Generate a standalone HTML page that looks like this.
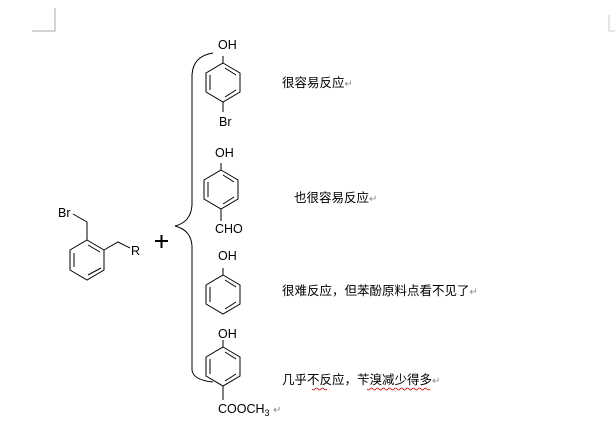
<!DOCTYPE html>
<html><head><meta charset="utf-8"><style>
body{margin:0;width:615px;height:427px;background:#fff;overflow:hidden;position:relative;font-family:"Liberation Sans","Noto Sans CJK SC",sans-serif}
.t{position:absolute;font-size:12.5px;color:#000;white-space:nowrap;line-height:1}
.r{color:#888;font-size:10px}
</style></head><body>
<svg width="615" height="427" style="position:absolute;left:0;top:0" fill="none" stroke="#000" stroke-width="1">
<path d="M55 8V31H32" stroke="#aaa"/>
<path d="M609 15V31H615" stroke="#ccc"/>
<path d="M213 53 Q193 56 192 75 V205 Q191 222 175 226 Q191 230 192 246 V370 Q193 380 213 382"/>
<path d="M73 214 L87 222 V240 M87 240 L104 250 V270 L87 280 L70 270 V250 Z M104 250 L118 242 L130 248"/>
<path d="M74 253 V267 M88 275 L101 268 M88 245 L100 252"/>
<path d="M155 241 H168 M161.5 235 V248" stroke-width="2"/>
<g transform="translate(223,63)"><path d="M0 -7 V0 M0 0 L17 10 V29 L0 39 L-17 29 V10 Z M0 39 V49 M-13 12 V27 M2 5 L13 12 M2 34 L13 27"/></g>
<g transform="translate(221,170)"><path d="M0 -7 V0 M0 0 L17 10 V29 L0 39 L-17 29 V10 Z M0 39 V51 M-13 12 V27 M2 5 L13 12 M2 34 L13 27"/></g>
<g transform="translate(223,275)"><path d="M0 -7 V0 M0 0 L17 10 V29 L0 39 L-17 29 V10 Z M-13 12 V27 M2 5 L13 12 M2 34 L13 27"/></g>
<g transform="translate(223,347)"><path d="M0 -7 V0 M0 0 L17 10 V29 L0 39 L-17 29 V10 Z M0 39 V53 M-13 12 V27 M2 5 L13 12 M2 34 L13 27"/></g>
<path d="M312 389 q1.5 2 3 0 t3 0 t3 0 t3 0 t3 0 M367 389 q1.5 2 3 0 t3 0 t3 0 t3 0 t3 0 t3 0 t3 0 t3 0 t3 0 t3 0 t3 0 t3 0 t3 0 t3 0 t3 0 t3 0 t3 0 t3 0 t3 0 t3 0 t3 0" stroke="#c00" stroke-width="0.8"/>
</svg>
<div class="t" style="left:218px;top:39px">OH</div>
<div class="t" style="left:219px;top:116px">Br</div>
<div class="t" style="left:215px;top:147px">OH</div>
<div class="t" style="left:215px;top:223px">CHO</div>
<div class="t" style="left:218px;top:250px">OH</div>
<div class="t" style="left:218px;top:328px">OH</div>
<div class="t" style="left:218px;top:403px">COOCH<span style="font-size:9px;position:relative;top:3px">3</span> <span class="r">↵</span></div>
<div class="t" style="left:58px;top:207px">Br</div>
<div class="t" style="left:131px;top:245px">R</div>
<div class="t" style="left:282px;top:77px">很容易反应<span class="r">↵</span></div>
<div class="t" style="left:294px;top:192px">也很容易反应<span class="r">↵</span></div>
<div class="t" style="left:282px;top:285px">很难反应，但苯酚原料点看不见了<span class="r">↵</span></div>
<div class="t" style="left:282px;top:374px">几乎不反应，苄溴减少得多<span class="r">↵</span></div>
</body></html>
